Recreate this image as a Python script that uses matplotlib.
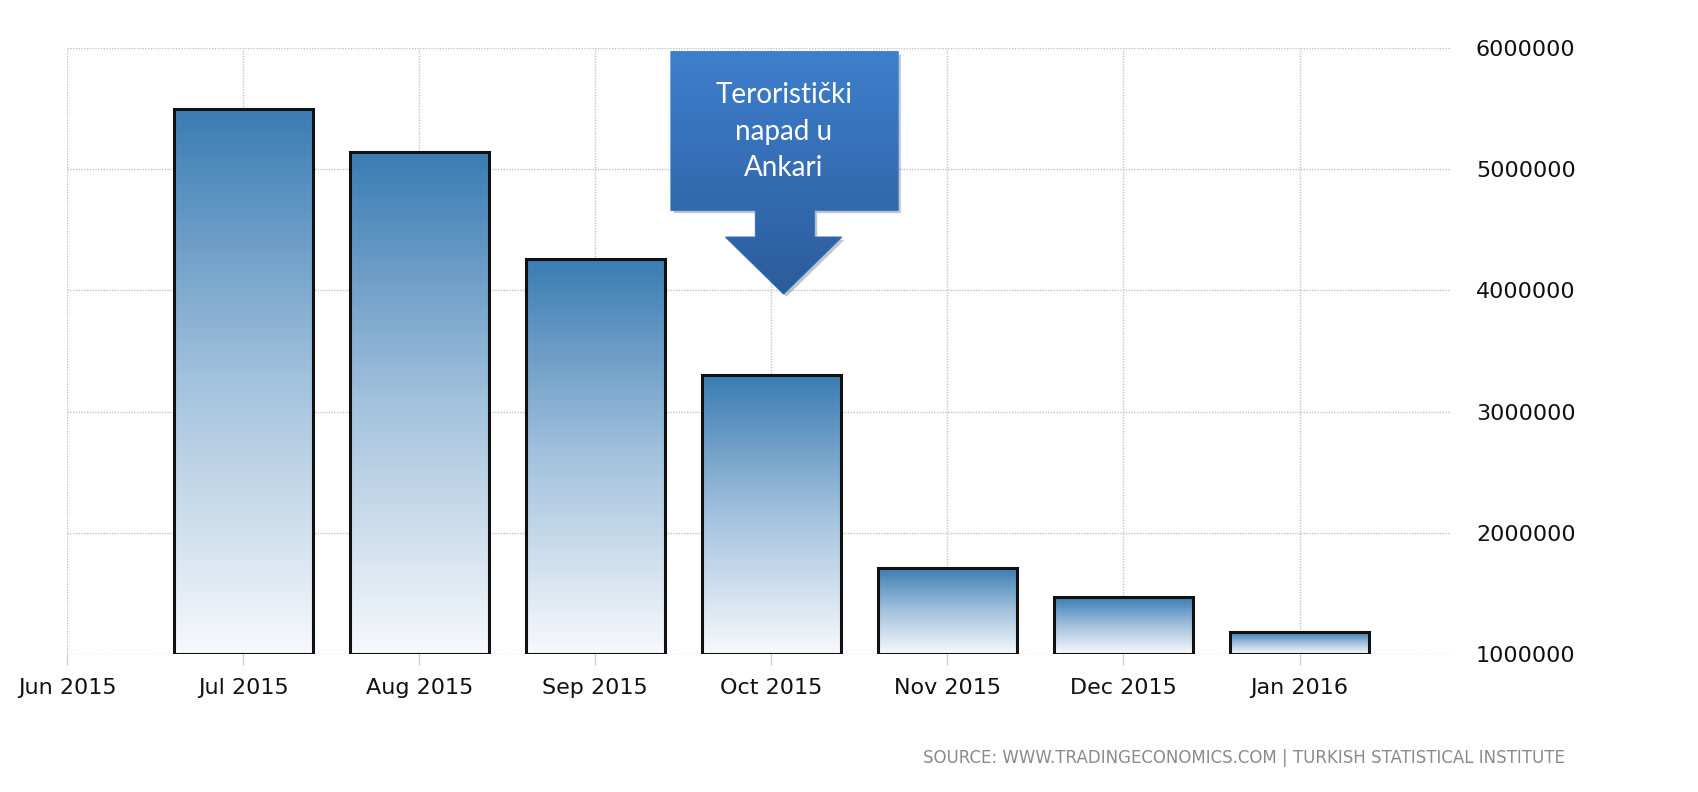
import numpy as np
import matplotlib
matplotlib.use("Agg")
import matplotlib.pyplot as plt
import matplotlib.patheffects as pe
from matplotlib.colors import LinearSegmentedColormap
from matplotlib.patches import Polygon

# data: international arrivals, Turkey
months = ["Jun 2015", "Jul 2015", "Aug 2015", "Sep 2015", "Oct 2015",
          "Nov 2015", "Dec 2015", "Jan 2016"]
bar_months = ["Jul 2015", "Aug 2015", "Sep 2015", "Oct 2015",
              "Nov 2015", "Dec 2015", "Jan 2016"]
arrivals = [5500000, 5140000, 4260000, 3300000, 1710000, 1470000, 1180000]
yticks = [1000000, 2000000, 3000000, 4000000, 5000000, 6000000]
note_text = "Teroristički\nnapad u\nAnkari"
note_month = "Oct 2015"
source = "SOURCE: WWW.TRADINGECONOMICS.COM | TURKISH STATISTICAL INSTITUTE"

base = yticks[0]
bar_cmap = LinearSegmentedColormap.from_list(
    "bars", ["#f7f9fc", "#a3c2dd", "#3a7cb3"])
note_cmap = LinearSegmentedColormap.from_list(
    "note", ["#2c5c9b", "#3e7fcd"])
grad = np.linspace(0, 1, 256).reshape(-1, 1)

fig = plt.figure(figsize=(16.98, 7.92), dpi=100)
ax = fig.add_axes([0.0395, 0.1742, 0.815, 0.7652])

xpos = [months.index(m) for m in bar_months]
bars = ax.bar(xpos, [v - base for v in arrivals], bottom=base, width=0.79,
              fill=False, edgecolor="#111111", linewidth=2.2, zorder=4)
for p in bars.patches:
    im = ax.imshow(grad, cmap=bar_cmap, origin="lower", aspect="auto",
                   extent=[p.get_x(), p.get_x() + p.get_width(),
                           p.get_y(), p.get_y() + p.get_height()],
                   zorder=3)
    im.set_clip_path(p)

# callout arrow pointing at the October bar
cx = months.index(note_month) + 0.07
shape = [(-0.64, 5970000), (0.65, 5970000), (0.65, 4660000),
         (0.175, 4660000), (0.175, 4440000), (0.33, 4440000),
         (0.0, 3970000), (-0.33, 4440000), (-0.16, 4440000),
         (-0.16, 4660000), (-0.64, 4660000)]
poly = Polygon([(cx + dx, y) for dx, y in shape], closed=True,
               facecolor="#3570b5", edgecolor="#4f8ad0", linewidth=1,
               zorder=5,
               path_effects=[pe.SimplePatchShadow(offset=(2, -2), alpha=0.25),
                             pe.Normal()])
ax.add_patch(poly)
im = ax.imshow(grad, cmap=note_cmap, origin="lower", aspect="auto",
               extent=[cx - 0.64, cx + 0.65, 3970000, 5970000], zorder=6)
im.set_clip_path(poly)
ax.text(cx, 5310000, note_text, color="white", fontsize=20, family="Lato",
        ha="center", va="center", linespacing=1.5, zorder=7)

ax.set_xlim(0, 7.86)
ax.set_ylim(base, yticks[-1])
ax.set_xticks(range(len(months)))
ax.set_xticklabels(months)
ax.set_yticks(yticks)
ax.set_yticklabels([str(t) for t in yticks])
ax.yaxis.tick_right()
ax.tick_params(axis="x", length=8, width=1, color="#cccccc", pad=9,
               labelsize=16, labelcolor="#111111")
ax.tick_params(axis="y", length=0, pad=18, labelsize=16, labelcolor="#111111")
ax.grid(True, color="#c4c4c4", linestyle=(0, (1, 1)), linewidth=1, zorder=0)
ax.set_axisbelow(True)
for s in ax.spines.values():
    s.set_visible(False)

fig.text(0.9217, 0.043, source, ha="right", va="center", fontsize=12,
         color="#8a8a8a")

fig.savefig("out.png", dpi=100)
